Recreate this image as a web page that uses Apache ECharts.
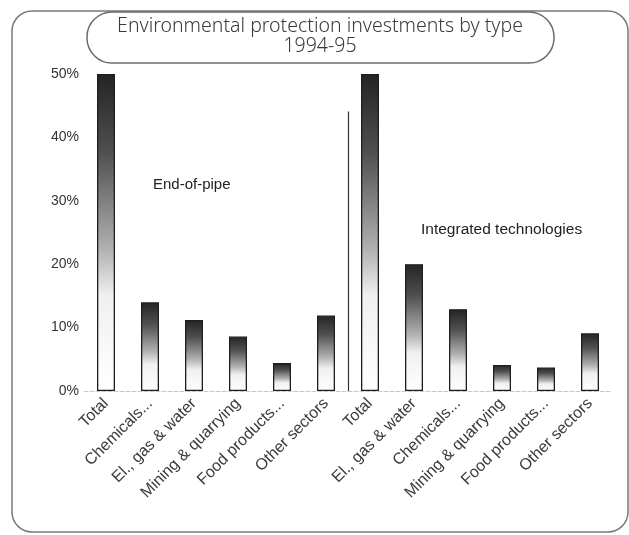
<!DOCTYPE html>
<html><head><meta charset="utf-8">
<script src="https://cdn.jsdelivr.net/npm/echarts@6/dist/echarts.min.js"></script>
<style>html,body{margin:0;padding:0;background:#fff}#c{width:629px;height:535px}</style>
</head><body><div id="c"></div>
<script>
const categories = ['Total','Chemicals...','El., gas & water','Mining & quarrying','Food products...','Other sectors',
                    'Total','El., gas & water','Chemicals...','Mining & quarrying','Food products...','Other sectors'];
const endOfPipe = [50, 14.0, 11.2, 8.6, 4.4, 11.9];
const integrated = [50, 20.0, 12.9, 4.1, 3.7, 9.1];
const separator = [[5, 44.1]];
const yMin = 0, yMax = 50, yStep = 10;
const titleLines = ['Environmental protection investments by type', '1994-95'];
const groupLabels = ['End-of-pipe', 'Integrated technologies'];

const values = endOfPipe.concat(integrated);
const chart = echarts.init(document.getElementById('c'), null, {renderer: 'canvas'});
const grad = new echarts.graphic.LinearGradient(0, 0, 0, 1, [
  {offset: 0, color: '#242424'},
  {offset: 0.25, color: '#505050'},
  {offset: 0.55, color: '#b0b0b0'},
  {offset: 0.7, color: '#f0f0f0'},
  {offset: 1, color: '#ffffff'}
]);
chart.setOption({
  animation: false,
  backgroundColor: '#ffffff',
  grid: {left: 84, right: 17, top: 74, bottom: 144},
  xAxis: {
    type: 'category', data: categories,
    axisLine: {show: true, lineStyle: {color: '#c8c8c8', type: 'dashed', width: 1}},
    axisTick: {show: false},
    axisLabel: {rotate: 45, fontSize: 16, color: '#3a3a3a', fontFamily: 'Liberation Sans', interval: 0, margin: 10}
  },
  yAxis: {
    type: 'value', min: yMin, max: yMax, interval: yStep,
    axisLine: {show: false}, axisTick: {show: false}, splitLine: {show: false},
    axisLabel: {formatter: '{value}%', fontSize: 14, color: '#333', fontFamily: 'Liberation Sans', margin: 5}
  },
  series: [
    {type: 'bar', data: values, barWidth: 18,
     itemStyle: {color: grad, borderColor: '#1e1e1e', borderWidth: 1.3}},
    {type: 'custom', data: separator, z: 5,
     renderItem: function (params, api) {
       const top = api.coord([api.value(0), api.value(1)]);
       const base = api.coord([api.value(0), 0]);
       const bw = api.size([1, 0])[0];
       const x = Math.round(top[0] + bw / 2) + 0.5;
       return {type: 'line', shape: {x1: x, y1: top[1], x2: x, y2: base[1]},
               style: {stroke: '#333', lineWidth: 1.2}};
     }}
  ],
  graphic: [
    {type: 'rect', z: -10, shape: {x: 12, y: 11, width: 616, height: 521, r: 20},
     style: {fill: 'none', stroke: '#7a7a7a', lineWidth: 1.5}},
    {type: 'rect', z: 10, shape: {x: 87, y: 12, width: 467, height: 51, r: 25},
     style: {fill: '#fff', stroke: '#6a6a6a', lineWidth: 1.5}},
    {type: 'text', z: 11, x: 320, y: 16,
     style: {text: titleLines.join('\n'), fill: '#3a3a3a', font: '300 19.5px "Noto Sans"', align: 'center', verticalAlign: 'top', lineHeight: 20}},
    {type: 'text', z: 11, x: 153, y: 185,
     style: {text: groupLabels[0], fill: '#222', font: '15px "Liberation Sans"', align: 'left', verticalAlign: 'middle'}},
    {type: 'text', z: 11, x: 421, y: 230,
     style: {text: groupLabels[1], fill: '#222', font: '15.5px "Liberation Sans"', align: 'left', verticalAlign: 'middle'}}
  ]
});
</script></body></html>
